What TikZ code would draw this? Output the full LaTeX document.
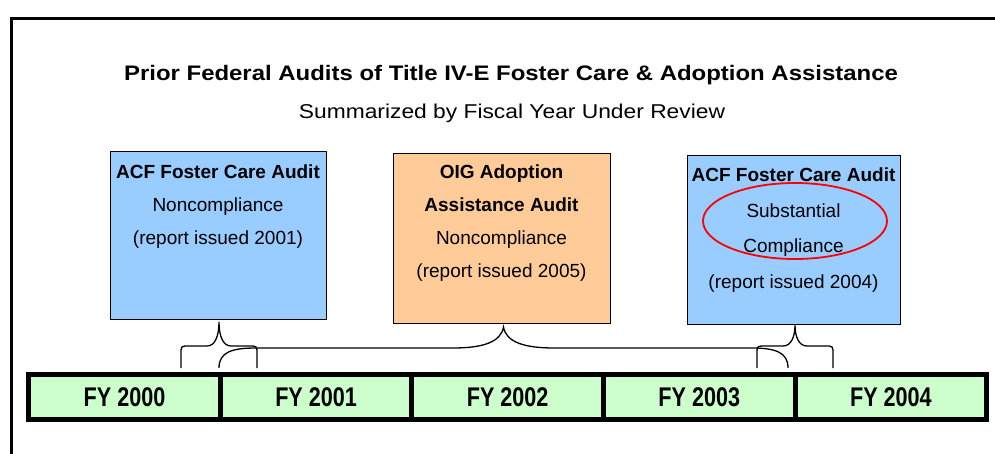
\documentclass[tikz,border=0pt]{standalone}
\usepackage{fontspec}
\setmainfont{Liberation Sans}
\newfontfamily\widesans[FakeStretch=1.14]{Liberation Sans}
\newfontfamily\narrowsans[FakeStretch=0.8]{Liberation Sans}
\usepackage{tikz}
\usetikzlibrary{positioning,matrix}
\definecolor{acfblue}{RGB}{153,204,255}
\definecolor{oigpeach}{RGB}{255,204,153}
\definecolor{fygreen}{RGB}{204,255,204}

\begin{document}
\begin{tikzpicture}[%
    x=1pt, y=-1pt,
    auditbox/.style={
        draw,
        line width=1pt,
        minimum width=#1
        },
    audittext/.style={
        align=center,
        inner sep=0pt,
        font=\fontsize{19}{33}\selectfont
        },
    yearcell/.style={
        draw,
        line width=5pt,
        fill=fygreen,
        inner sep=0pt,
        minimum width=191.6pt,
        minimum height=45pt,
        font=\narrowsans\bfseries\fontsize{27}{27}\selectfont
        },
    yearbar/.style={%
        matrix of nodes,
        nodes=yearcell,
        inner sep=0pt,
        column sep=-5pt
        },
    bracket/.style={line width=1.3pt}
]
\useasboundingbox (0,0) rectangle (995,454);
\draw[line width=3pt] (11.5,454) -- (11.5,19) -- (995,19);

\node[font=\widesans\bfseries\fontsize{21}{21}\selectfont] (title) at (511,75)
    {Prior Federal Audits of Title IV-E Foster Care \& Adoption Assistance};
\node[font=\widesans\fontsize{20}{20}\selectfont] (subtitle) at (512,113)
    {Summarized by Fiscal Year Under Review};

\node[auditbox=216pt, minimum height=167pt, fill=acfblue] (acf2000) at (218,235.5) {};
\node[audittext, below=13pt of acf2000.north] (acf2000text)
    {\textbf{ACF Foster Care Audit}\\Noncompliance\\(report issued 2001)};

\node[auditbox=217pt, minimum height=169pt, fill=oigpeach] (oig) at (501.5,238.5) {};
\node[audittext, below=11.5pt of oig.north] (oigtext)
    {\textbf{OIG Adoption}\\\textbf{Assistance Audit}\\Noncompliance\\(report issued 2005)};

\node[auditbox=213pt, minimum height=168pt, fill=acfblue] (acf2004) at (793.5,240) {};
\node[audittext, font=\fontsize{19}{35.5}\selectfont, below=12.5pt of acf2004.north] (acf2004text)
    {\textbf{ACF Foster Care Audit}\\Substantial\\Compliance\\(report issued 2004)};
\draw[red, line width=1.8pt] (795,221) ellipse [x radius=92, y radius=38];

\matrix[yearbar, anchor=north west] (years) at (26,372) {
FY 2000 & FY 2001 & FY 2002 & FY 2003 & FY 2004 \\};

% braces from the audits down to the years
\draw[bracket] (181,368) -- (181,354) .. controls (181,346) .. (189,346) -- (207,346)
    .. controls (215,346) and (219,336) .. (219,322)
    .. controls (219,336) and (223,346) .. (231,346) -- (249,346)
    .. controls (257,346) .. (257,354) -- (257,368);
\draw[bracket] (219,368) .. controls (219,352) and (232,348) .. (256,348) -- (453,348)
    .. controls (483,348) and (501,342) .. (503.5,327)
    .. controls (506,342) and (524,348) .. (554,348) -- (751,348)
    .. controls (775,348) and (788,352) .. (788,368);
\draw[bracket] (757,368) -- (757,354) .. controls (757,346) .. (765,346) -- (783,346)
    .. controls (791,346) and (795,337) .. (795,325)
    .. controls (795,337) and (799,346) .. (807,346) -- (825,346)
    .. controls (833,346) .. (833,354) -- (833,368);
\end{tikzpicture}
\end{document}
